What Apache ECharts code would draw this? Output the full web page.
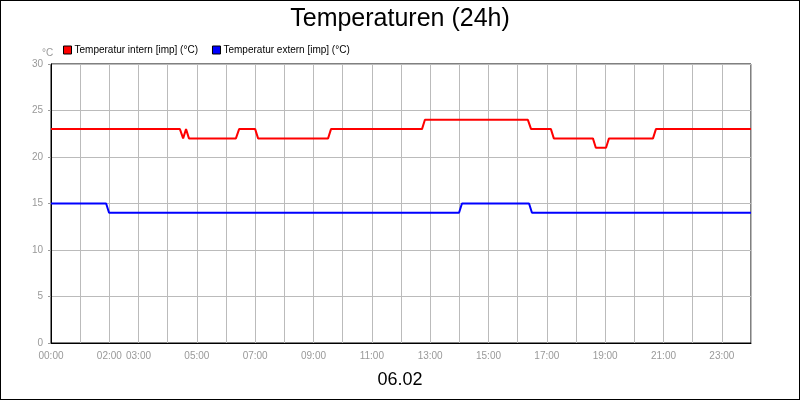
<!DOCTYPE html>
<html><head><meta charset="utf-8">
<script src="https://cdn.jsdelivr.net/npm/echarts@6/dist/echarts.min.js"></script>
<style>html,body{margin:0;padding:0;}#c{width:798px;height:398px;border:1px solid #000;}</style>
</head><body><div id="c"></div>
<script>
const shownHours = [0,2,3,5,7,9,11,13,15,17,19,21,23];
const internX = [0,4.42,4.53,4.63,4.73,6.34,6.45,7.0,7.1,9.5,9.6,12.72,12.82,16.35,16.46,17.14,17.24,18.58,18.68,19.03,19.13,20.64,20.74,24];
const internY = [23,23,22,23,22,22,23,23,22,22,23,23,24,24,23,23,22,22,21,21,22,22,23,23];
const externX = [0,1.89,1.99,13.99,14.09,16.39,16.49,24];
const externY = [15,15,14,14,15,15,14,14];
const zip=(a,b)=>a.map((v,i)=>[v,b[i]]);
const chart = echarts.init(document.getElementById('c'));
chart.setOption({
  animation:false,
  title:[{text:'Temperaturen (24h)',left:'center',top:1,textStyle:{fontSize:25,fontWeight:'normal',color:'#000',fontFamily:'Liberation Sans'}},
         {text:'06.02',left:'center',top:365,textStyle:{fontSize:18,fontWeight:'normal',color:'#000',fontFamily:'Liberation Sans'}},
         {text:'°C',left:36,top:42,textStyle:{fontSize:10,fontWeight:'normal',color:'#999'}}],
  legend:{left:57,top:39,itemWidth:8,itemHeight:8,itemGap:14,icon:'rect',
    textStyle:{fontSize:10,color:'#000',fontFamily:'Liberation Sans',padding:[0,0,0,-2]},
    itemStyle:{borderColor:'#000',borderWidth:1}},
  grid:{left:50,right:48,top:63,bottom:56,show:true,borderColor:'#000',borderWidth:1},
  xAxis:{type:'value',min:0,max:24,interval:1,
    axisLine:{lineStyle:{color:'#000'}},axisTick:{show:false},
    splitLine:{show:true,lineStyle:{color:'#bbb'}},
    axisLabel:{color:'#999',fontSize:10,showMaxLabel:false,
      formatter:v=>shownHours.includes(v)?String(v).padStart(2,'0')+':00':''}},
  yAxis:{type:'value',min:0,max:30,interval:5,
    axisLine:{show:true,lineStyle:{color:'#000'}},axisTick:{show:true,length:3,lineStyle:{color:'#999'}},
    splitLine:{lineStyle:{color:'#bbb'}},axisLabel:{color:'#999',fontSize:10}},
  series:[
    {name:'Temperatur intern [imp] (°C)',type:'line',data:zip(internX,internY),symbol:'none',color:'#ff0000',lineStyle:{width:2}},
    {name:'Temperatur extern [imp] (°C)',type:'line',data:zip(externX,externY),symbol:'none',color:'#0000ff',lineStyle:{width:2}}
  ]
});
</script></body></html>
